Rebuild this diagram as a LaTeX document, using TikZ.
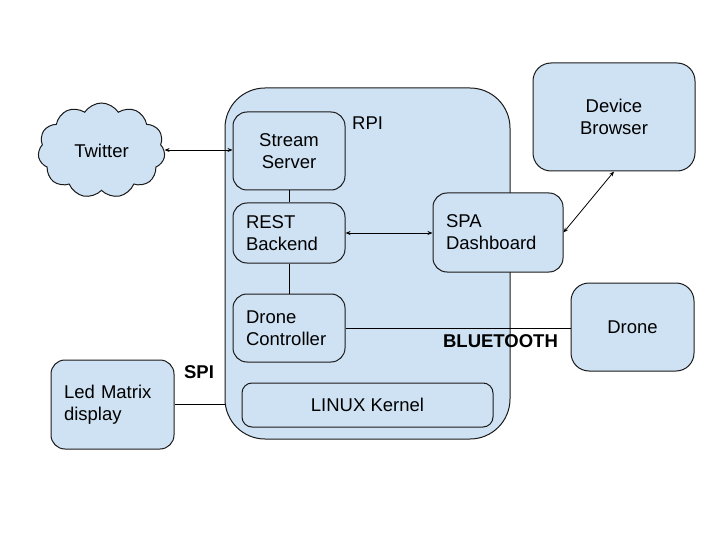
\documentclass[tikz,border=0pt]{standalone}
\usepackage{fontspec}
\setmainfont{Liberation Sans}
\usetikzlibrary{shapes.symbols,arrows.meta}
\definecolor{boxfill}{HTML}{CFE2F3}
\definecolor{boxline}{HTML}{1A1A1A}
\begin{document}
\begin{tikzpicture}[x=1pt,y=-1pt,
  every node/.style={font=\fontsize{18.5}{22}\selectfont},
  box/.style={draw=boxline, line width=1pt, fill=boxfill, rounded corners=#1, inner sep=0pt},
  box/.default=14pt,
  lbox/.style={box, align=left, inner xsep=13pt},
  conn/.style={line width=0.8pt, draw=black},
  biarrow/.style={conn, {Stealth[length=5pt,width=4pt]}-{Stealth[length=5pt,width=4pt]}},
  lbl/.style={font=\fontsize{18.5}{22}\selectfont\bfseries}
]
\useasboundingbox (0,0) rectangle (720,540);
% RPI container
\node[box=40pt, minimum width=285pt, minimum height=351pt] (rpi) at (367.5,263.5) {};
\node[anchor=west, inner sep=0pt] (rpilabel) at (352,123) {RPI};
% inner boxes
\node[box, minimum width=112pt, minimum height=78pt, align=center] (ss) at (289,151) {Stream\\Server};
\node[lbox, text width=86pt, minimum height=60pt] (rest) at (289,233) {REST\\Backend};
\node[lbox, text width=86pt, minimum height=68pt] (dc) at (289,328) {Drone\\Controller};
\node[box=10pt, minimum width=251pt, minimum height=44pt] (kernel) at (367.5,405) {LINUX Kernel};
% outside boxes
\node[lbox, text width=104pt, minimum height=79pt] (spa) at (498,232.5) {SPA\\Dashboard};
\node[box=18pt, minimum width=162pt, minimum height=108pt, align=center] (browser) at (614,117) {Device\\Browser};
\node[box=18pt, minimum width=123pt, minimum height=88pt] (drone) at (632.5,327) {Drone};
\node[lbox, text width=97pt, minimum height=89pt] (led) at (112.5,404.5) {Led Matrix\\display};
\node[cloud, cloud puffs=11, cloud puff arc=115, aspect=1.35, draw=boxline, line width=1pt, fill=boxfill,
      minimum width=127pt, minimum height=95pt, inner sep=0pt] (tw) at (101.5,150.5) {Twitter};
% labels
\node[lbl] (spi) at (199,372) {SPI};
\node[lbl] (bt) at (500.5,341) {BLUETOOTH};
% connectors
\draw[biarrow] (tw.east |- 0,150) -- (ss.west |- 0,150);
\draw[conn] (ss) -- (rest);
\draw[conn] (rest) -- (dc);
\draw[biarrow] (rest.east) -- (spa.west |- rest.east);
\draw[biarrow] (spa.east) -- (browser.south);
\draw[conn] (dc.east) -- (dc.east -| drone.west);
\draw[conn] (led.east) -- (led.east -| rpi.west);
\end{tikzpicture}
\end{document}
